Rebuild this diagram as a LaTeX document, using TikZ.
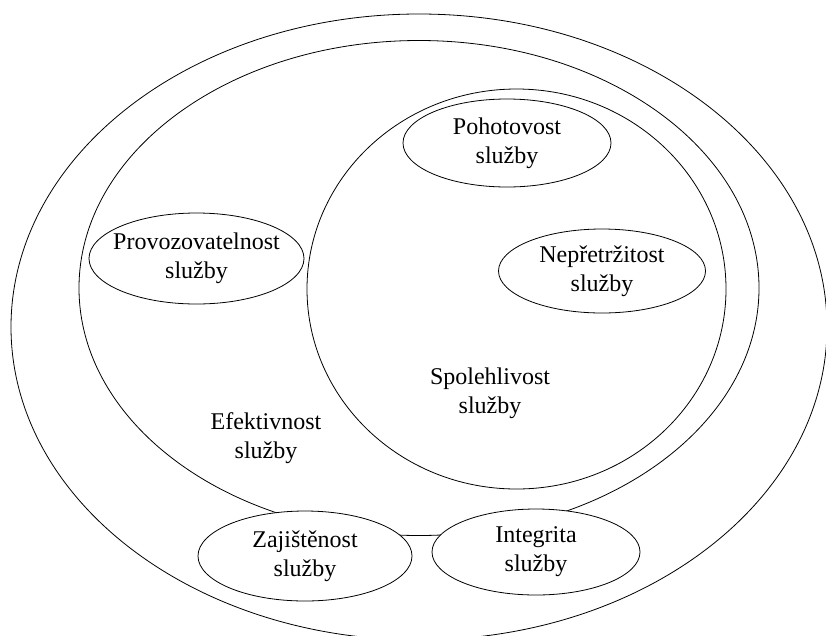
\documentclass[tikz,border=0pt]{standalone}
\usepackage{fontspec}
\setmainfont{Liberation Serif}
\usetikzlibrary{shapes.geometric}
\begin{document}
\begin{tikzpicture}[x=1pt,y=-1pt,
  ring/.style={draw,ellipse,line width=0.8pt,inner sep=0pt,outer sep=0pt},
  oval/.style={ring,fill=white},
  lbl/.style={align=center,font=\fontsize{24}{29}\selectfont,inner sep=0pt}]
\useasboundingbox (0,0) rectangle (826,635);
\begin{scope}
\clip (0,0) rectangle (826,635);
\node[ring,minimum width=816pt,minimum height=626pt] (outer) at (419,327) {};
\node[ring,minimum width=680pt,minimum height=495pt] (mid) at (419,288) {};
\node[ring,minimum width=419pt,minimum height=400pt] (spol) at (516.5,289) {};
\node[oval,minimum width=208pt,minimum height=88pt] (poh) at (507,143) {};
\node[oval,minimum width=207pt,minimum height=84pt] (nep) at (602,271) {};
\node[oval,minimum width=215pt,minimum height=91pt] (prov) at (196.5,258.5) {};
\node[oval,minimum width=214pt,minimum height=90pt] (zaj) at (305,556) {};
\node[oval,minimum width=208pt,minimum height=86pt] (int) at (536,552) {};
\node[lbl] (pohtext) at (poh) {Pohotovost\\služby};
\node[lbl] (neptext) at (nep) {Nepřetržitost\\služby};
\node[lbl] (provtext) at (prov) {Provozovatelnost\\služby};
\node[lbl] (zajtext) at (zaj) {Zajištěnost\\služby};
\node[lbl] (inttext) at (int) {Integrita\\služby};
\node[lbl] (spoltext) at (490,393) {Spolehlivost\\služby};
\node[lbl] (eftext) at (266,438) {Efektivnost\\služby};
\end{scope}
\end{tikzpicture}
\end{document}
